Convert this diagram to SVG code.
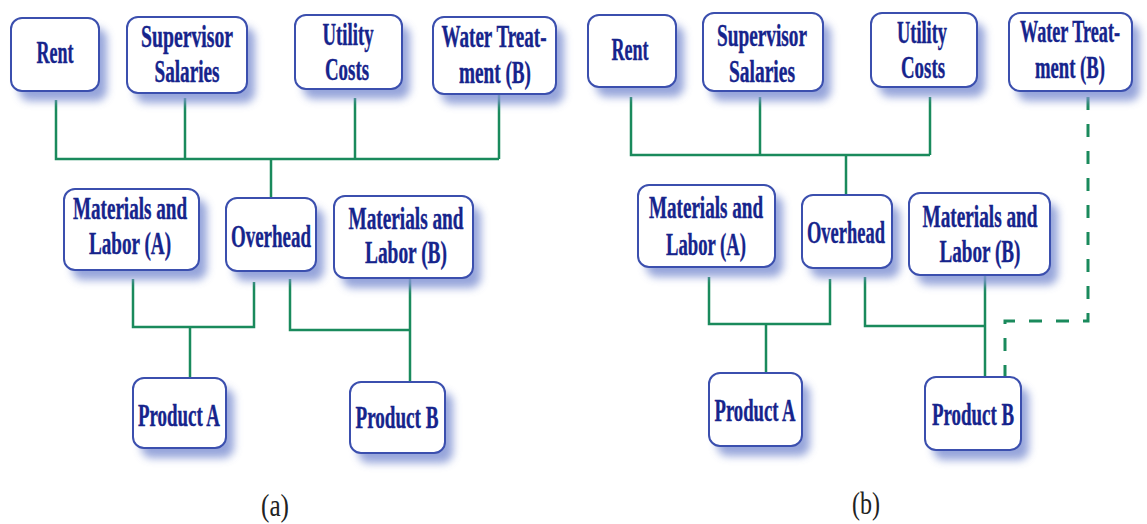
<svg xmlns="http://www.w3.org/2000/svg" width="1147" height="524" viewBox="0 0 1147 524">
  <defs>
    <filter id="soft" x="-30%" y="-30%" width="160%" height="160%">
      <feGaussianBlur stdDeviation="4"/>
    </filter>
    <style>
      .shadow { fill: #8495d4; opacity: 0.85; filter: url(#soft); }
      .box { fill: #ffffff; stroke: #3b4fae; stroke-width: 2; }
      .lbl { font-family: "Liberation Serif", "Times New Roman", serif; font-weight: bold; font-size: 31px; fill: #16248c; stroke: #16248c; stroke-width: 0.4; text-anchor: middle; }
      .cap { font-family: "Liberation Serif", "Times New Roman", serif; font-size: 32px; fill: #222222; text-anchor: middle; }
      .wire { fill: none; stroke: #1a8a5c; stroke-width: 2.5; }
      .dash { stroke-dasharray: 13 14; stroke-width: 3; }
    </style>
  </defs>

  <rect width="1147" height="524" fill="#ffffff"/>

  <!-- connectors -->
  <g id="connectors">
    <!-- panel (a) -->
    <path class="wire" d="M56,100 V159 H499 M185,98 V159 M355,98 V159 M499,94 V159 M271,159 V198"/>
    <path class="wire" d="M133,279 V327 H254 V282 M190,327 V378"/>
    <path class="wire" d="M290,279 V330 H410 M410,278 V382"/>
    <!-- panel (b) -->
    <path class="wire" d="M631,97 V155 H930 M760,97 V155 M930,97 V155 M846,155 V195"/>
    <path class="wire" d="M709,277 V324 H830 V279 M766,324 V373"/>
    <path class="wire" d="M865,277 V326 H985 M985,275 V377"/>
    <path class="wire dash" d="M1088,97 V321 H1005 V377"/>
  </g>

  <!-- panel (a) nodes -->
  <g id="a-rent">
    <rect class="shadow" x="19" y="28" width="88" height="73" rx="11"/>
    <rect class="box" x="11" y="18" width="88" height="73" rx="11"/>
    <text class="lbl" x="55" y="63" textLength="37" lengthAdjust="spacingAndGlyphs">Rent</text>
  </g>
  <g id="a-supervisor">
    <rect class="shadow" x="135" y="27" width="120" height="76" rx="11"/>
    <rect class="box" x="127" y="17" width="120" height="76" rx="11"/>
    <text class="lbl" x="187" y="47" textLength="92" lengthAdjust="spacingAndGlyphs">Supervisor</text>
    <text class="lbl" x="187" y="82" textLength="65" lengthAdjust="spacingAndGlyphs">Salaries</text>
  </g>
  <g id="a-utility">
    <rect class="shadow" x="303" y="25" width="107" height="74" rx="11"/>
    <rect class="box" x="295" y="15" width="107" height="74" rx="11"/>
    <text class="lbl" x="348" y="45" textLength="51" lengthAdjust="spacingAndGlyphs">Utility</text>
    <text class="lbl" x="347" y="80" textLength="44" lengthAdjust="spacingAndGlyphs">Costs</text>
  </g>
  <g id="a-water">
    <rect class="shadow" x="441" y="27" width="123" height="77" rx="11"/>
    <rect class="box" x="433" y="17" width="123" height="77" rx="11"/>
    <text class="lbl" x="494" y="47" textLength="105" lengthAdjust="spacingAndGlyphs">Water Treat-</text>
    <text class="lbl" x="495" y="83" textLength="72" lengthAdjust="spacingAndGlyphs">ment (B)</text>
  </g>
  <g id="a-mla">
    <rect class="shadow" x="72" y="199" width="135" height="81" rx="11"/>
    <rect class="box" x="64" y="189" width="135" height="81" rx="11"/>
    <text class="lbl" x="130" y="219" textLength="114" lengthAdjust="spacingAndGlyphs">Materials and</text>
    <text class="lbl" x="130" y="254" textLength="82" lengthAdjust="spacingAndGlyphs">Labor (A)</text>
  </g>
  <g id="a-overhead">
    <rect class="shadow" x="234" y="208" width="90" height="73" rx="11"/>
    <rect class="box" x="226" y="198" width="90" height="73" rx="11"/>
    <text class="lbl" x="271" y="247" textLength="80" lengthAdjust="spacingAndGlyphs">Overhead</text>
  </g>
  <g id="a-mlb">
    <rect class="shadow" x="342" y="206" width="139" height="82" rx="11"/>
    <rect class="box" x="334" y="196" width="139" height="82" rx="11"/>
    <text class="lbl" x="406" y="229" textLength="115" lengthAdjust="spacingAndGlyphs">Materials and</text>
    <text class="lbl" x="406" y="263" textLength="82" lengthAdjust="spacingAndGlyphs">Labor (B)</text>
  </g>
  <g id="a-product-a">
    <rect class="shadow" x="141" y="388" width="93" height="70" rx="11"/>
    <rect class="box" x="133" y="378" width="93" height="70" rx="11"/>
    <text class="lbl" x="179" y="426" textLength="82" lengthAdjust="spacingAndGlyphs">Product A</text>
  </g>
  <g id="a-product-b">
    <rect class="shadow" x="358" y="392" width="95" height="71" rx="11"/>
    <rect class="box" x="350" y="382" width="95" height="71" rx="11"/>
    <text class="lbl" x="397" y="428" textLength="83" lengthAdjust="spacingAndGlyphs">Product B</text>
  </g>

  <!-- panel (b) nodes -->
  <g id="b-rent">
    <rect class="shadow" x="596" y="25" width="88" height="72" rx="11"/>
    <rect class="box" x="588" y="15" width="88" height="72" rx="11"/>
    <text class="lbl" x="630" y="60" textLength="37" lengthAdjust="spacingAndGlyphs">Rent</text>
  </g>
  <g id="b-supervisor">
    <rect class="shadow" x="711" y="23" width="120" height="78" rx="11"/>
    <rect class="box" x="703" y="13" width="120" height="78" rx="11"/>
    <text class="lbl" x="762" y="46" textLength="90" lengthAdjust="spacingAndGlyphs">Supervisor</text>
    <text class="lbl" x="762" y="82" textLength="66" lengthAdjust="spacingAndGlyphs">Salaries</text>
  </g>
  <g id="b-utility">
    <rect class="shadow" x="879" y="23" width="106" height="74" rx="11"/>
    <rect class="box" x="871" y="13" width="106" height="74" rx="11"/>
    <text class="lbl" x="922" y="43" textLength="50" lengthAdjust="spacingAndGlyphs">Utility</text>
    <text class="lbl" x="923" y="78" textLength="44" lengthAdjust="spacingAndGlyphs">Costs</text>
  </g>
  <g id="b-water">
    <rect class="shadow" x="1017" y="23" width="123" height="78" rx="11"/>
    <rect class="box" x="1009" y="13" width="123" height="78" rx="11"/>
    <text class="lbl" x="1070" y="42" textLength="100" lengthAdjust="spacingAndGlyphs">Water Treat-</text>
    <text class="lbl" x="1070" y="78" textLength="70" lengthAdjust="spacingAndGlyphs">ment (B)</text>
  </g>
  <g id="b-mla">
    <rect class="shadow" x="646" y="195" width="137" height="82" rx="11"/>
    <rect class="box" x="638" y="185" width="137" height="82" rx="11"/>
    <text class="lbl" x="706" y="218" textLength="114" lengthAdjust="spacingAndGlyphs">Materials and</text>
    <text class="lbl" x="706" y="255" textLength="80" lengthAdjust="spacingAndGlyphs">Labor (A)</text>
  </g>
  <g id="b-overhead">
    <rect class="shadow" x="810" y="205" width="90" height="73" rx="11"/>
    <rect class="box" x="802" y="195" width="90" height="73" rx="11"/>
    <text class="lbl" x="846" y="243" textLength="78" lengthAdjust="spacingAndGlyphs">Overhead</text>
  </g>
  <g id="b-mlb">
    <rect class="shadow" x="917" y="203" width="141" height="82" rx="11"/>
    <rect class="box" x="909" y="193" width="141" height="82" rx="11"/>
    <text class="lbl" x="980" y="227" textLength="115" lengthAdjust="spacingAndGlyphs">Materials and</text>
    <text class="lbl" x="980" y="262" textLength="81" lengthAdjust="spacingAndGlyphs">Labor (B)</text>
  </g>
  <g id="b-product-a">
    <rect class="shadow" x="717" y="383" width="93" height="73" rx="11"/>
    <rect class="box" x="709" y="373" width="93" height="73" rx="11"/>
    <text class="lbl" x="755" y="421" textLength="81" lengthAdjust="spacingAndGlyphs">Product A</text>
  </g>
  <g id="b-product-b">
    <rect class="shadow" x="933" y="387" width="96" height="73" rx="11"/>
    <rect class="box" x="925" y="377" width="96" height="73" rx="11"/>
    <text class="lbl" x="973" y="425" textLength="82" lengthAdjust="spacingAndGlyphs">Product B</text>
  </g>

  <!-- panel captions -->
  <text class="cap" x="275" y="516" textLength="28" lengthAdjust="spacingAndGlyphs">(a)</text>
  <text class="cap" x="866" y="514" textLength="28" lengthAdjust="spacingAndGlyphs">(b)</text>
</svg>
